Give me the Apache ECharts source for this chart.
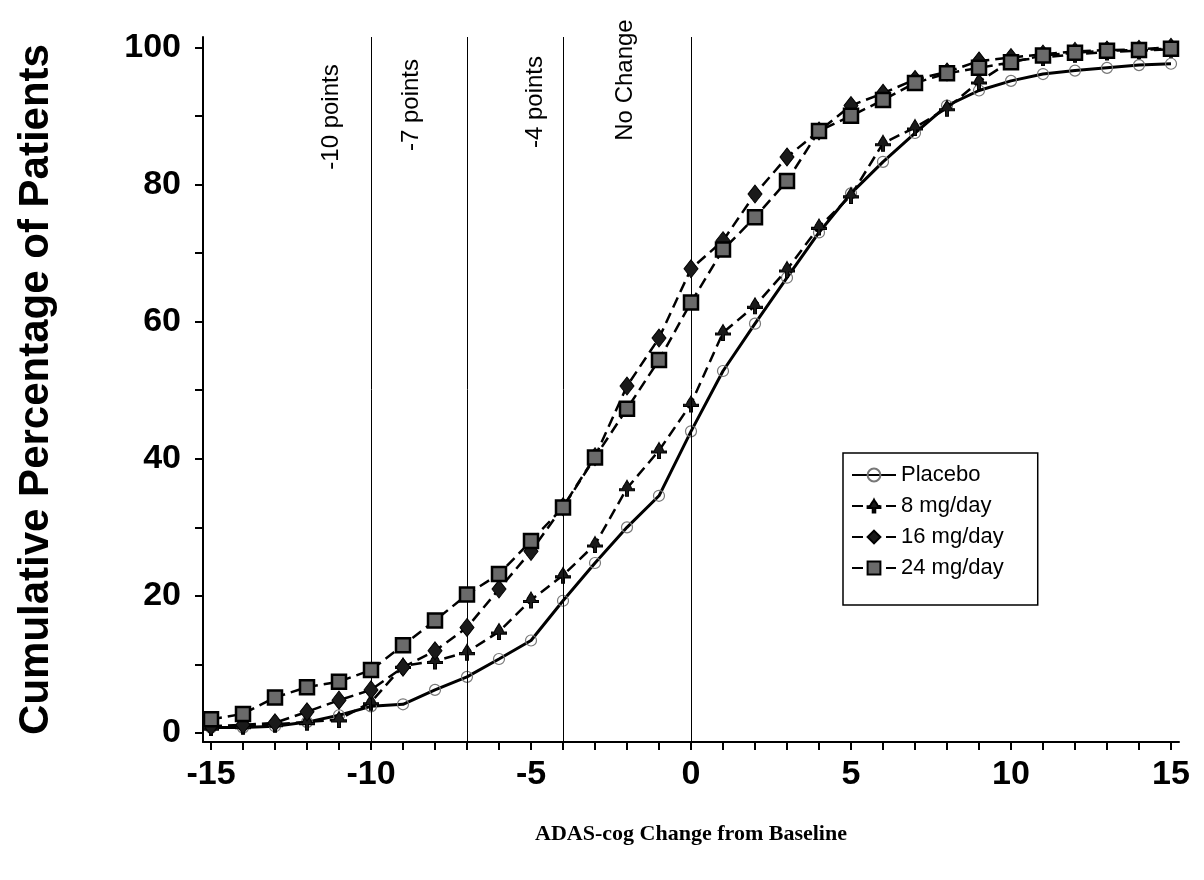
<!DOCTYPE html>
<html>
<head>
<meta charset="utf-8">
<script src="https://cdn.jsdelivr.net/npm/echarts@6/dist/echarts.min.js"></script>
<style>
  html, body { margin: 0; padding: 0; background: #fff; }
  #chart { width: 1204px; height: 880px; }
</style>
</head>
<body>
<div id="chart"></div>
<script>
// ADAS-cog change from baseline, -15 .. 15
const changeValues = [-15, -14, -13, -12, -11, -10, -9, -8, -7, -6, -5, -4, -3, -2, -1, 0, 1, 2, 3, 4, 5, 6, 7, 8, 9, 10, 11, 12, 13, 14, 15];

const placebo = [0.8, 0.8, 1.0, 1.6, 2.6, 3.9, 4.2, 6.3, 8.2, 10.8, 13.5, 19.3, 24.8, 30, 34.6, 44, 52.8, 59.7, 66.4, 73, 78.7, 83.3, 87.5, 91.5, 93.7, 95.1, 96.1, 96.6, 97.0, 97.4, 97.6];
const mg8 = [0.8, 1.0, 1.3, 1.6, 2.0, 4.5, 9.8, 10.5, 11.8, 14.8, 19.4, 23, 27.5, 35.7, 41.2, 48, 58.4, 62.3, 67.6, 73.8, 78.4, 86, 88.3, 91.1, 95, 98, 98.5, 99, 99.3, 99.5, 99.7];
const mg16 = [1.0, 1.2, 1.5, 3.1, 4.8, 6.3, 9.6, 12.0, 15.4, 21, 26.5, 33, 40.3, 50.6, 57.6, 67.7, 71.8, 78.6, 84, 87.8, 91.5, 93.3, 95.3, 96.4, 98, 98.5, 99, 99.4, 99.6, 99.7, 100];
const mg24 = [2.0, 2.8, 5.2, 6.7, 7.5, 9.2, 12.8, 16.4, 20.2, 23.2, 28, 32.9, 40.2, 47.3, 54.4, 62.8, 70.5, 75.2, 80.5, 87.8, 90, 92.3, 94.8, 96.2, 97, 97.8, 98.8, 99.2, 99.5, 99.6, 99.8];

const seriesNames = ['Placebo', '8 mg/day', '16 mg/day', '24 mg/day'];

const xTicks = [-15, -14, -13, -12, -11, -10, -9, -8, -7, -6, -5, -4, -3, -2, -1, 0, 1, 2, 3, 4, 5, 6, 7, 8, 9, 10, 11, 12, 13, 14, 15];
const xLabels = [-15, -10, -5, 0, 5, 10, 15];
const yTicks = [0, 10, 20, 30, 40, 50, 60, 70, 80, 90, 100];
const yLabels = [0, 20, 40, 60, 80, 100];

const refLines = [-10, -7, -4, 0];
const refLabels = ['-10 points', '-7 points', '-4 points', 'No Change'];

const narrow = '"Liberation Sans Narrow", "Arial Narrow", "Liberation Sans", Arial, sans-serif';

function pairs(ys) {
    return changeValues.map((x, i) => [x, ys[i]]);
}

const spade = 'path://M0,-10 C2,-6 6,-3 6,0 L10,0 L10,2.5 L2,2.5 L2,9 L-2,9 L-2,2.5 L-10,2.5 L-10,0 L-6,0 C-6,-3 -2,-6 0,-10 Z';
const dash = [11, 6];

const chart = echarts.init(document.getElementById('chart'));

const option = {
    backgroundColor: '#fff',
    animation: false,
    grid: { left: 203, right: 25, top: 37, bottom: 138, containLabel: false, outerBoundsMode: 'none' },
    legend: {
        orient: 'vertical',
        left: 843,
        top: 453,
        padding: [11, 34, 26, 8],
        borderColor: '#000',
        borderWidth: 1.5,
        itemGap: 9,
        itemWidth: 44,
        itemHeight: 16,
        data: seriesNames,
        textStyle: { fontFamily: narrow, fontSize: 22, color: '#000' }
    },
    xAxis: {
        type: 'value',
        min: -15.25,
        max: 15.25,
        axisLine: { show: true, onZero: false, lineStyle: { color: '#000', width: 2 } },
        axisTick: { show: true, length: 8, customValues: xTicks, lineStyle: { color: '#000', width: 2 } },
        axisLabel: {
            customValues: xLabels,
            margin: 16,
            color: '#000',
            fontFamily: narrow,
            fontWeight: 'bold',
            fontSize: 34
        },
        splitLine: { show: false },
        name: 'ADAS-cog Change from Baseline',
        nameLocation: 'middle',
        nameGap: 81,
        nameTextStyle: { fontFamily: '"Liberation Serif", "Times New Roman", serif', fontWeight: 'bold', fontSize: 22, color: '#000' }
    },
    yAxis: {
        type: 'value',
        min: -1.3,
        max: 101.5,
        axisLine: { show: true, onZero: false, lineStyle: { color: '#000', width: 2 } },
        axisTick: { show: true, length: 8, customValues: yTicks, lineStyle: { color: '#000', width: 2 } },
        axisLabel: {
            customValues: yLabels,
            margin: 22,
            color: '#000',
            fontFamily: narrow,
            fontWeight: 'bold',
            fontSize: 34
        },
        splitLine: { show: false },
        name: 'Cumulative Percentage of Patients',
        nameLocation: 'middle',
        nameRotate: 90,
        nameGap: 146,
        nameTextStyle: { fontFamily: '"Liberation Sans", Arial, sans-serif', fontWeight: 'bold', fontSize: 42, color: '#000' }
    },
    graphic: refLabels.map((t, i) => ({
        type: 'text',
        x: [331, 411, 535, 625][i],
        y: [117, 105, 102, 80][i],
        rotation: Math.PI / 2,
        style: {
            text: t,
            font: '24px "Liberation Sans", Arial, sans-serif',
            fill: '#000',
            textAlign: 'center',
            textVerticalAlign: 'middle'
        }
    })),
    series: [
        {
            name: seriesNames[0],
            type: 'line',
            data: pairs(placebo),
            symbol: 'circle',
            symbolSize: 11,
            lineStyle: { color: '#000', width: 3, type: 'solid' },
            itemStyle: { color: 'rgba(255,255,255,0)', borderColor: '#777', borderWidth: 1.2 },
            z: 3,
            markLine: {
                silent: true,
                symbol: 'none',
                label: { show: false },
                lineStyle: { color: '#000', width: 1, type: 'solid' },
                data: refLines.map(v => ({ xAxis: v }))
            }
        },
        {
            name: seriesNames[1],
            type: 'line',
            data: pairs(mg8),
            symbol: spade,
            symbolSize: [15, 16],
            lineStyle: { color: '#000', width: 2.5, type: dash },
            itemStyle: { color: '#1a1a1a', borderColor: '#000', borderWidth: 1 },
            z: 4
        },
        {
            name: seriesNames[2],
            type: 'line',
            data: pairs(mg16),
            symbol: 'diamond',
            symbolSize: [14, 18],
            lineStyle: { color: '#000', width: 2.5, type: dash },
            itemStyle: { color: '#1a1a1a', borderColor: '#000', borderWidth: 1 },
            z: 5
        },
        {
            name: seriesNames[3],
            type: 'line',
            data: pairs(mg24),
            symbol: 'rect',
            symbolSize: 14,
            lineStyle: { color: '#000', width: 2.5, type: dash },
            itemStyle: { color: '#6a6a6a', borderColor: '#000', borderWidth: 2.5 },
            z: 6
        }
    ]
};

chart.setOption(option);
</script>
</body>
</html>
